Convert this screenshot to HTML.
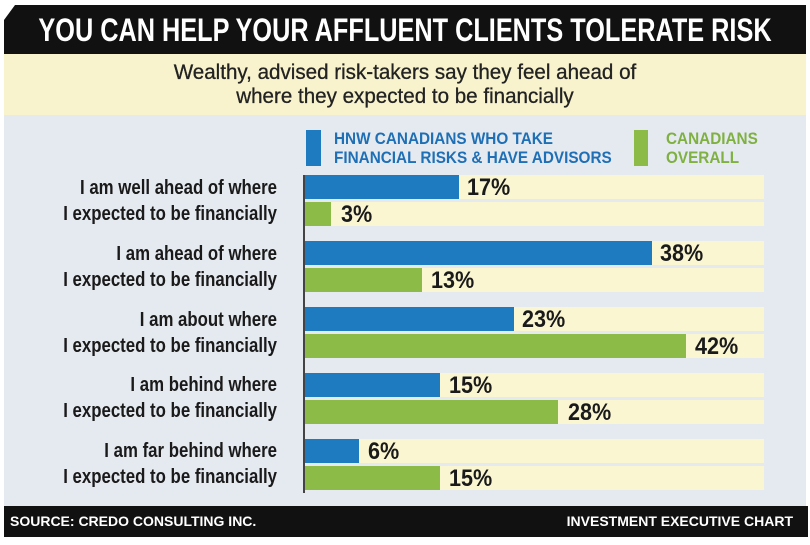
<!DOCTYPE html>
<html><head><meta charset="utf-8"><style>
body{margin:0;width:810px;height:545px;background:#fff;position:relative;overflow:hidden;font-family:"Liberation Sans",sans-serif;font-weight:bold}
div{position:absolute}
.hdr{left:4px;top:5px;width:802px;height:49px;background:#111;clip-path:polygon(11px 0,100% 0,100% 100%,0 100%,0 15px)}
.title{left:4px;top:5px;width:802px;height:49px;line-height:50px;color:#fff;font-size:32px;white-space:nowrap}
.title span{position:absolute;left:50%;top:0;transform:translateX(-50%) scaleX(0.79);transform-origin:center}
.sub{left:4px;top:54px;width:802px;height:61px;background:#f8f3cd;text-align:center;color:#222;font-size:21px;line-height:24px;padding-top:7px;box-sizing:border-box;font-weight:normal;-webkit-text-stroke:0.3px #222}
.sub span{display:inline-block;transform:scaleX(0.98)}
.panel{left:4px;top:115px;width:802px;height:391px;background:#e5eaf1}
.ftr{left:4px;top:506px;width:804px;height:31px;background:#111;color:#fff;font-size:14px;line-height:31px}
.track{left:304px;width:460px;height:24px;background:#fbf6d2}
.b{left:304px;height:24px}
.blue{background:#1e7bbf}.green{background:#8cbb48}
.pct{font-size:24px;color:#1a1a1a;height:24px;line-height:26px;transform:scaleX(0.9);transform-origin:left}
.lab{left:0px;width:277px;text-align:right;color:#1a1a1a;font-size:20px;line-height:26px;white-space:nowrap;transform:scaleX(0.84);transform-origin:right}
.axis{left:303px;top:175px;width:2px;height:318px;background:#444}
.leg{font-size:17px;line-height:19px;white-space:nowrap;transform:scaleX(0.9);transform-origin:left}
</style></head><body>
<div class="hdr"></div>
<div class="title"><span>YOU CAN HELP YOUR AFFLUENT CLIENTS TOLERATE RISK</span></div>
<div class="sub"><span>Wealthy, advised risk-takers say they feel ahead of<br>where they expected to be financially</span></div>
<div class="panel"></div>
<div class="blue" style="left:306px;top:130px;width:15px;height:36px"></div>
<div class="leg" style="left:334px;top:129px;color:#1e6fb5">HNW CANADIANS WHO TAKE<br>FINANCIAL RISKS &amp; HAVE ADVISORS</div>
<div class="green" style="left:634px;top:130px;width:14px;height:36px"></div>
<div class="leg" style="left:666px;top:129px;color:#7fb041">CANADIANS<br>OVERALL</div>

<div class="lab" style="top:175px">I am well ahead of where<br>I expected to be financially</div>
<div class="lab" style="top:241px">I am ahead of where<br>I expected to be financially</div>
<div class="lab" style="top:307px">I am about where<br>I expected to be financially</div>
<div class="lab" style="top:372px">I am behind where<br>I expected to be financially</div>
<div class="lab" style="top:438px">I am far behind where<br>I expected to be financially</div>

<div class="track" style="top:175px"></div><div class="track" style="top:202px"></div>
<div class="track" style="top:241px"></div><div class="track" style="top:268px"></div>
<div class="track" style="top:307px"></div><div class="track" style="top:334px"></div>
<div class="track" style="top:373px"></div><div class="track" style="top:400px"></div>
<div class="track" style="top:439px"></div><div class="track" style="top:466px"></div>

<div class="b blue" style="top:175px;width:155px"></div><div class="pct" style="left:467px;top:175px">17%</div>
<div class="b green" style="top:202px;width:27px"></div><div class="pct" style="left:341px;top:202px">3%</div>
<div class="b blue" style="top:241px;width:348px"></div><div class="pct" style="left:660px;top:241px">38%</div>
<div class="b green" style="top:268px;width:118px"></div><div class="pct" style="left:431px;top:268px">13%</div>
<div class="b blue" style="top:307px;width:210px"></div><div class="pct" style="left:522px;top:307px">23%</div>
<div class="b green" style="top:334px;width:382px"></div><div class="pct" style="left:695px;top:334px">42%</div>
<div class="b blue" style="top:373px;width:136px"></div><div class="pct" style="left:449px;top:373px">15%</div>
<div class="b green" style="top:400px;width:254px"></div><div class="pct" style="left:568px;top:400px">28%</div>
<div class="b blue" style="top:439px;width:55px"></div><div class="pct" style="left:368px;top:439px">6%</div>
<div class="b green" style="top:466px;width:136px"></div><div class="pct" style="left:449px;top:466px">15%</div>
<div class="axis"></div>

<div class="ftr"><span style="position:absolute;left:6px">SOURCE: CREDO CONSULTING INC.</span><span style="position:absolute;right:15px">INVESTMENT EXECUTIVE CHART</span></div>
</body></html>
